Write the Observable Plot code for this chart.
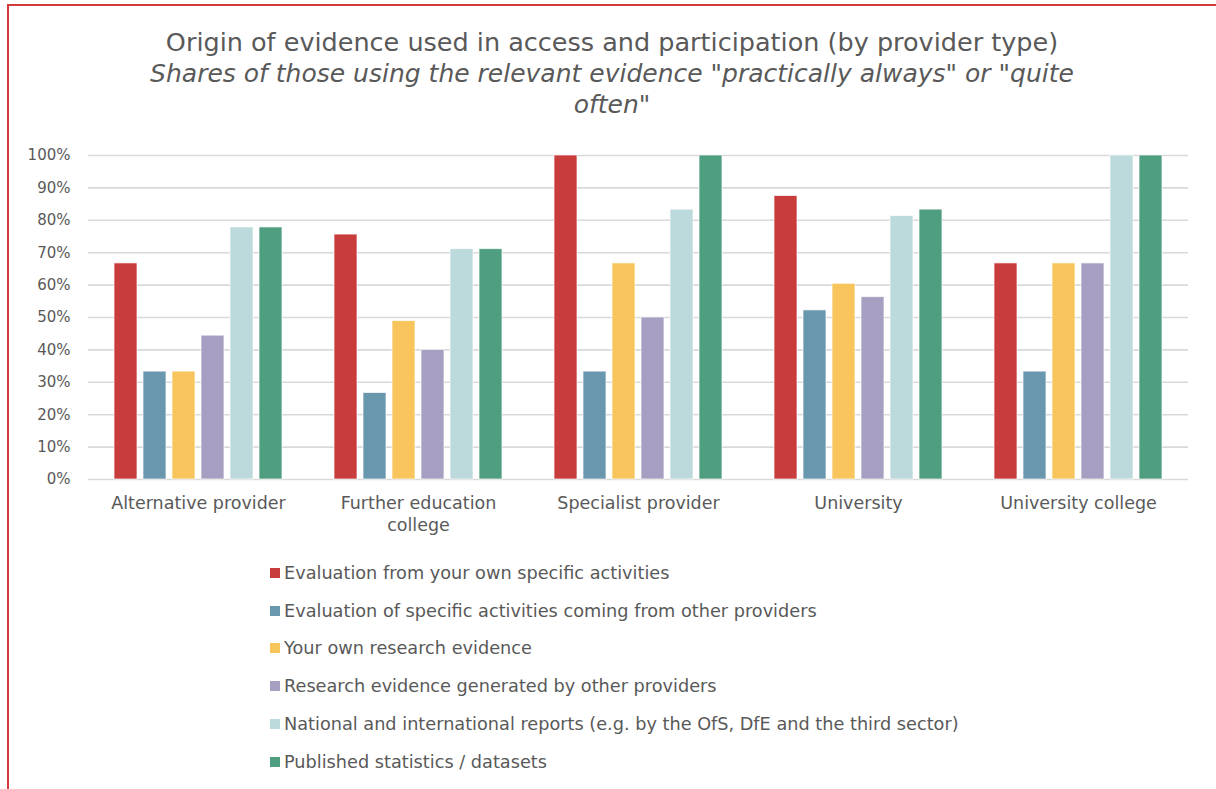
<!DOCTYPE html>
<html>
<head>
<meta charset="utf-8">
<script src="https://cdn.jsdelivr.net/npm/d3@7"></script>
<script src="https://cdn.jsdelivr.net/npm/@observablehq/plot@0.6"></script>
<style>
  html, body { margin: 0; padding: 0; background: #fff; }
  body { width: 1216px; height: 789px; position: relative; overflow: hidden; font-family: "DejaVu Sans", sans-serif; color: #595959; }
  #frame { position: absolute; left: 7px; top: 4px; right: -10px; bottom: -10px; border-left: 2px solid #d4393b; border-top: 2px solid #d4393b; }
  #title { position: absolute; left: 8px; width: 1208px; top: 27px; text-align: center; font-size: 25.5px; line-height: 31px; }
  #title .sub { font-style: italic; font-size: 25px; }
  #chart { position: absolute; left: 0; top: 130px; }
  #legend { position: absolute; left: 270px; top: 554px; }
  .row { display: flex; align-items: center; height: 37.8px; font-size: 17.7px; }
  .row .sw { width: 10px; height: 10px; margin-right: 4px; }
</style>
</head>
<body>
<div id="frame"></div>
<div id="title"></div>
<div id="chart"></div>
<div id="legend"></div>
<script>
const titleText = "Origin of evidence used in access and participation (by provider type)";
const subtitleLines = ["Shares of those using the relevant evidence \"practically always\" or \"quite", "often\""];

const categories = ["Alternative provider", "Further education college", "Specialist provider", "University", "University college"];
const categoryLabels = ["Alternative provider", "Further education\ncollege", "Specialist provider", "University", "University college"];

const series = [
  "Evaluation from your own specific activities",
  "Evaluation of specific activities coming from other providers",
  "Your own research evidence",
  "Research evidence generated by other providers",
  "National and international reports (e.g. by the OfS, DfE and the third sector)",
  "Published statistics / datasets"
];
const colors = ["#c83c3c", "#6897ae", "#f7c55b", "#a79fc1", "#bcd9db", "#4f9e80"];

const evalOwn       = [66.7, 75.6, 100.0, 87.5, 66.7];
const evalOther     = [33.3, 26.7, 33.3, 52.2, 33.3];
const ownResearch   = [33.3, 48.9, 66.7, 60.4, 66.7];
const otherResearch = [44.4, 40.0, 50.0, 56.3, 66.7];
const reports       = [77.8, 71.1, 83.3, 81.3, 100.0];
const statistics    = [77.8, 71.1, 100.0, 83.3, 100.0];

const yTicks = [0, 10, 20, 30, 40, 50, 60, 70, 80, 90, 100];

const seriesValues = [evalOwn, evalOther, ownResearch, otherResearch, reports, statistics];
const data = [];
categories.forEach((c, i) => {
  series.forEach((s, j) => data.push({category: c, series: s, value: seriesValues[j][i]}));
});
const labelMap = new Map(categories.map((c, i) => [c, categoryLabels[i]]));

// Title
const t = document.getElementById("title");
const tl = document.createElement("div"); tl.textContent = titleText; t.appendChild(tl);
subtitleLines.forEach(l => { const d = document.createElement("div"); d.className = "sub"; d.textContent = l; t.appendChild(d); });

const chart = Plot.plot({
  width: 1216,
  height: 420,
  marginTop: 25,
  marginBottom: 71,
  marginLeft: 88,
  marginRight: 28,
  style: {fontFamily: "DejaVu Sans, sans-serif", fontSize: "15px", color: "#595959", background: "transparent"},
  fx: {domain: categories, padding: 0, label: null, axis: null},
  x: {domain: series, axis: null, paddingInner: 0.22, paddingOuter: 0.85},
  y: {domain: [0, 100], label: null, axis: null},
  color: {domain: series, range: colors},
  marks: [
    Plot.gridY({ticks: yTicks, stroke: "#d9d9d9", strokeOpacity: 1, strokeWidth: 1.6}),
    Plot.axisY({ticks: yTicks, tickFormat: d => d + "%", tickSize: 0, tickPadding: 18, label: null, fontSize: 15}),
    Plot.axisFx({anchor: "bottom", tickFormat: d => labelMap.get(d), tickSize: 0, tickPadding: 13, label: null, fontSize: 17.5, lineHeight: 1.3}),
    Plot.barY(data, {fx: "category", x: "series", y: "value", fill: "series", stroke: "#ffffff", strokeOpacity: 0.7, strokeWidth: 1})
  ]
});
document.getElementById("chart").appendChild(chart);

// Legend
const lg = document.getElementById("legend");
series.forEach((s, i) => {
  const r = document.createElement("div"); r.className = "row";
  const sw = document.createElement("div"); sw.className = "sw"; sw.style.background = colors[i];
  const tx = document.createElement("span"); tx.textContent = s;
  r.appendChild(sw); r.appendChild(tx); lg.appendChild(r);
});
</script>
</body>
</html>
